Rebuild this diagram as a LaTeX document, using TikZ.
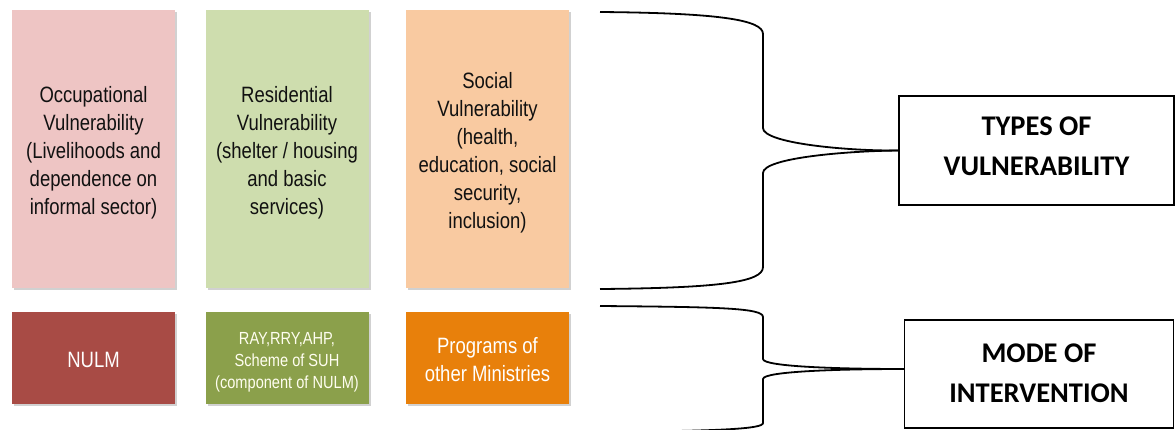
\documentclass[tikz,border=0pt]{standalone}
\usepackage{fontspec}
\setmainfont{Liberation Sans}
\newfontfamily\labelfont{Carlito}
\usepackage{graphicx}
\usetikzlibrary{calc}

\definecolor{occLight}{HTML}{EEC5C4}
\definecolor{occDark}{HTML}{A84B45}
\definecolor{resLight}{HTML}{CEDDAE}
\definecolor{resDark}{HTML}{8BA04B}
\definecolor{socLight}{HTML}{F9CAA1}
\definecolor{socDark}{HTML}{E8800B}
\definecolor{inkGray}{HTML}{111111}

% stretched multi-line text used in the coloured columns, set a little low
\newcommand{\tallText}[3]{\raisebox{-4pt}[\height][\depth]{\scalebox{1}[1.2]{\fontsize{#1}{#2}\selectfont\begin{tabular}{@{}c@{}}#3\end{tabular}}}}

\tikzset{
  colbox/.style={rectangle, inner sep=0pt, minimum width=163pt, minimum height=278pt, text=inkGray},
  progbox/.style={rectangle, inner sep=0pt, minimum width=163pt, minimum height=92pt, text=white},
  boxshadow/.style={fill=black!18},
  labelbox/.style={draw=black, line width=1.4pt, fill=white, inner sep=0pt,
    font=\labelfont\bfseries\fontsize{28.5}{40}\selectfont, align=center},
  brace/.style={draw=black, line width=1.8pt},
}

\begin{document}
\begin{tikzpicture}[x=1pt, y=-1pt]
  \useasboundingbox (0,0) rectangle (1176,429);

  % soft shadows behind the coloured columns
  \foreach \cx in {93.5, 287, 487.5} {
    \fill[boxshadow] (\cx-81.5+2, 10+2) rectangle (\cx+81.5+2, 288+2);
    \fill[boxshadow] (\cx-81.5+2, 312+2) rectangle (\cx+81.5+2, 404+2);
  }

  % vulnerability columns
  \node[colbox, fill=occLight] (occ) at (93.5,149)
    {\tallText{18.5}{23.3}{Occupational\\Vulnerability\\(Livelihoods and\\dependence on\\informal sector)}};
  \node[colbox, fill=resLight] (res) at (287,149)
    {\tallText{18.5}{23.3}{Residential\\Vulnerability\\(shelter / housing\\and basic\\services)}};
  \node[colbox, fill=socLight] (soc) at (487.5,149)
    {\tallText{18.5}{23.3}{Social\\Vulnerability\\(health,\\education, social\\security,\\inclusion)}};

  % intervention programmes
  \node[progbox, fill=occDark] (nulm) at (93.5,358)
    {\tallText{18.5}{23.3}{NULM}};
  \node[progbox, fill=resDark, text=white!94!yellow] (ray) at (287,358)
    {\tallText{14.6}{18.5}{RAY,RRY,AHP,\\Scheme of SUH\\(component of NULM)}};
  \node[progbox, fill=socDark] (other) at (487.5,358)
    {\tallText{18.5}{23.3}{Programs of\\other Ministries}};

  % category labels
  \node[labelbox, minimum width=275pt, minimum height=109pt] (types) at (1036.5,150.5)
    {\raisebox{3pt}[\height][\depth]{\begin{tabular}{@{}c@{}}TYPES OF\\VULNERABILITY\end{tabular}}};
  \node[labelbox, minimum width=269pt, minimum height=108pt] (mode) at (1039,374)
    {\begin{tabular}{@{}c@{}}MODE OF\\INTERVENTION\end{tabular}};

  % brace ends
  \coordinate (t1) at (600,12);
  \coordinate (t2) at (600,289);
  \coordinate (m1) at (600,306);
  \coordinate (m2) at (600,432);
  \coordinate (mtip) at ($(mode.west)+(0,-5)$);

  % brace grouping the vulnerability columns
  \draw[brace] (t1) .. controls (720,13) and (763,20) .. (763,34)
    -- (763,128) .. controls (763,143) and (845,151) .. (types.west);
  \draw[brace] (types.west) .. controls (845,151) and (763,158) .. (763,173)
    -- (763,267) .. controls (763,282) and (720,288) .. (t2);

  % brace grouping the programmes
  \draw[brace] (m1) .. controls (720,307) and (763,308) .. (763,317)
    -- (763,359) .. controls (763,367) and (845,369) .. (mtip);
  \draw[brace] (mtip) .. controls (845,369) and (763,371) .. (763,379)
    -- (763,423) .. controls (763,429) and (720,431) .. (m2);
\end{tikzpicture}
\end{document}
